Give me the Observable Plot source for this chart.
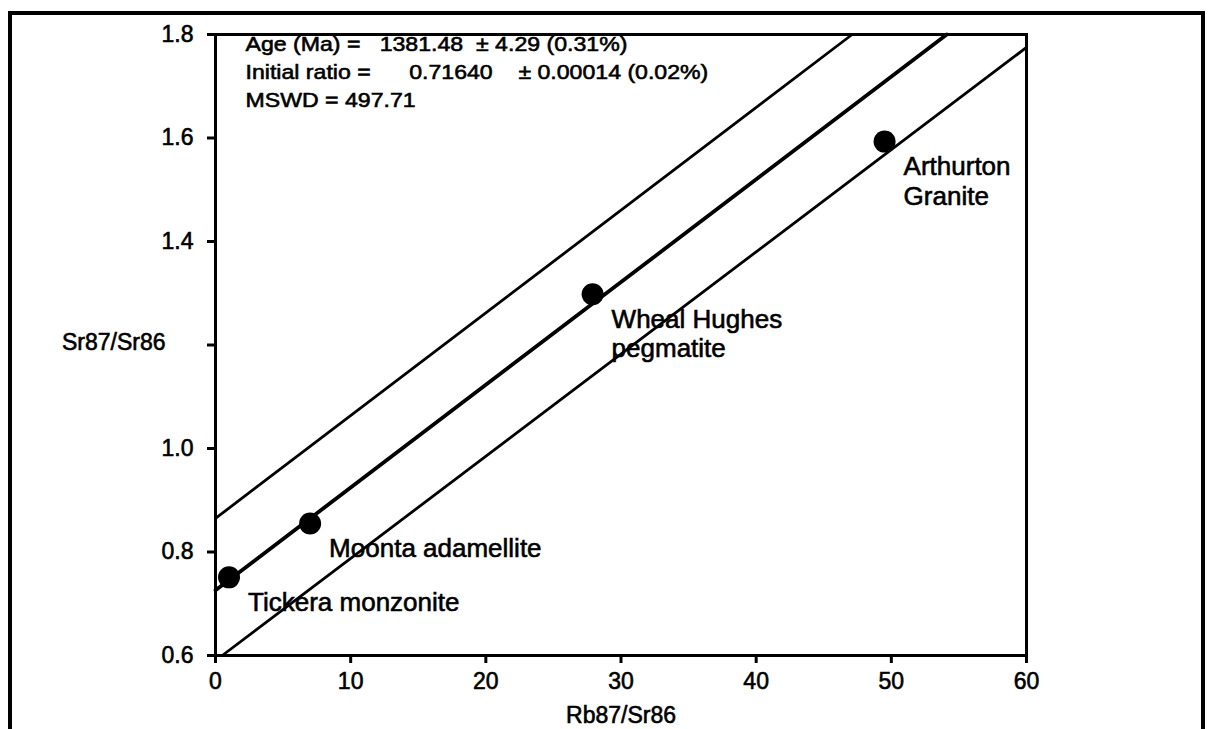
<!DOCTYPE html>
<html>
<head>
<meta charset="utf-8">
<script src="https://cdn.jsdelivr.net/npm/d3@7"></script>
<script src="https://cdn.jsdelivr.net/npm/@observablehq/plot@0.6"></script>
<style>
  html, body { margin: 0; padding: 0; background: #fff; overflow: hidden; width: 1209px; height: 729px; }
  #chart { position: absolute; left: 0; top: 0; }
  #outer { position: absolute; left: 8px; top: 11px; width: 1197px; height: 800px; box-sizing: border-box;
           border: 4px solid #000; border-bottom: none; pointer-events: none; z-index: 2; }
  #chart svg text { stroke: #000; stroke-width: 0.6px; }
</style>
</head>
<body>
<div id="chart"></div>
<div id="outer"></div>
<script>
// ---- data ----
const sampleNames = ["Tickera monzonite", "Moonta adamellite", "Wheal Hughes\npegmatite", "Arthurton\nGranite"];
const rbSr = [1.0, 7.0, 27.9, 49.5];       // Rb87/Sr86
const srSr = [0.751, 0.855, 1.298, 1.593]; // Sr87/Sr86

const lineNames = ["upper", "isochron", "lower"];
const lineStartX = [0, 0, 0.5];
const lineStartY = [0.865, 0.726, 0.6];
const lineEndX = [47.1, 54.1, 60];
const lineEndY = [1.8, 1.8, 1.775];

const xTicks = [0, 10, 20, 30, 40, 50, 60];
const xTickLabels = ["0", "10", "20", "30", "40", "50", "60"];
const yTicks = [0.6, 0.8, 1.0, 1.2, 1.4, 1.6, 1.8];
const yTickLabels = ["0.6", "0.8", "1.0", "", "1.4", "1.6", "1.8"];

const headerLines = [
  "Age (Ma) =\u00A0\u00A0 1381.48\u00A0 \u00B1 4.29 (0.31%)",
  "Initial ratio =\u00A0\u00A0\u00A0\u00A0\u00A0 0.71640\u00A0\u00A0\u00A0 \u00B1 0.00014 (0.02%)",
  "MSWD = 497.71"
];
const xLabel = "Rb87/Sr86";
const yLabel = "Sr87/Sr86";

// ---- tables ----
const points = sampleNames.map((name, i) => ({name, x: rbSr[i], y: srSr[i]}));
const lines = lineNames.map((name, i) => ({name, x1: lineStartX[i], y1: lineStartY[i], x2: lineEndX[i], y2: lineEndY[i]}));

const headerDy = [10, 38, 66];

const chart = Plot.plot({
  width: 1209,
  height: 729,
  marginLeft: 215,
  marginRight: 183,
  marginTop: 34,
  marginBottom: 74,
  style: {fontFamily: "'Liberation Sans', Arial, Helvetica, sans-serif", fontSize: "23px", color: "#000", background: "transparent"},
  x: {domain: [0, 60]},
  y: {domain: [0.6, 1.8]},
  marks: [
    Plot.link(lines, {
      x1: "x1", y1: "y1", x2: "x2", y2: "y2",
      stroke: "#000",
      strokeWidth: d => d.name === "isochron" ? 3.8 : 2.8,
      strokeLinecap: "round"
    }),
    Plot.frame({stroke: "#000", strokeWidth: 3}),
    Plot.axisX({ticks: xTicks, tickSize: 8, tickPadding: 9, strokeWidth: 3, fontSize: 23, label: null,
      tickFormat: d => xTickLabels[xTicks.indexOf(d)]}),
    Plot.axisY({ticks: yTicks, tickSize: 8, tickPadding: 14, strokeWidth: 3, fontSize: 23, label: null,
      tickFormat: d => yTickLabels[yTicks.indexOf(d)]}),
    Plot.dot(points, {x: "x", y: "y", r: 11, fill: "#000", stroke: "none"}),
    Plot.text(points, {x: "x", y: "y", text: "name", dx: 19, dy: 12, textAnchor: "start",
      lineAnchor: "top", lineHeight: 1.15, fontSize: 26, fill: "#000"}),
    ...headerLines.map((t, i) => Plot.text([t], {frameAnchor: "top-left", dx: 30, dy: headerDy[i],
      textAnchor: "start", lineAnchor: "middle", fontSize: 21, fill: "#000"})),
    Plot.text([yLabel], {frameAnchor: "left", dx: -50, dy: -2, textAnchor: "end", fontSize: 23, fill: "#000"}),
    Plot.text([xLabel], {frameAnchor: "bottom", dx: 0, dy: 67, textAnchor: "middle", fontSize: 23, fill: "#000"})
  ]
});

document.getElementById("chart").append(chart);

// the original header font is set a little wider than Arial
chart.querySelectorAll("text").forEach(el => {
  if (headerLines.includes(el.textContent)) {
    const len = el.getComputedTextLength();
    el.setAttribute("textLength", (len * 1.1).toFixed(1));
    el.setAttribute("lengthAdjust", "spacingAndGlyphs");
  }
});
</script>
</body>
</html>
